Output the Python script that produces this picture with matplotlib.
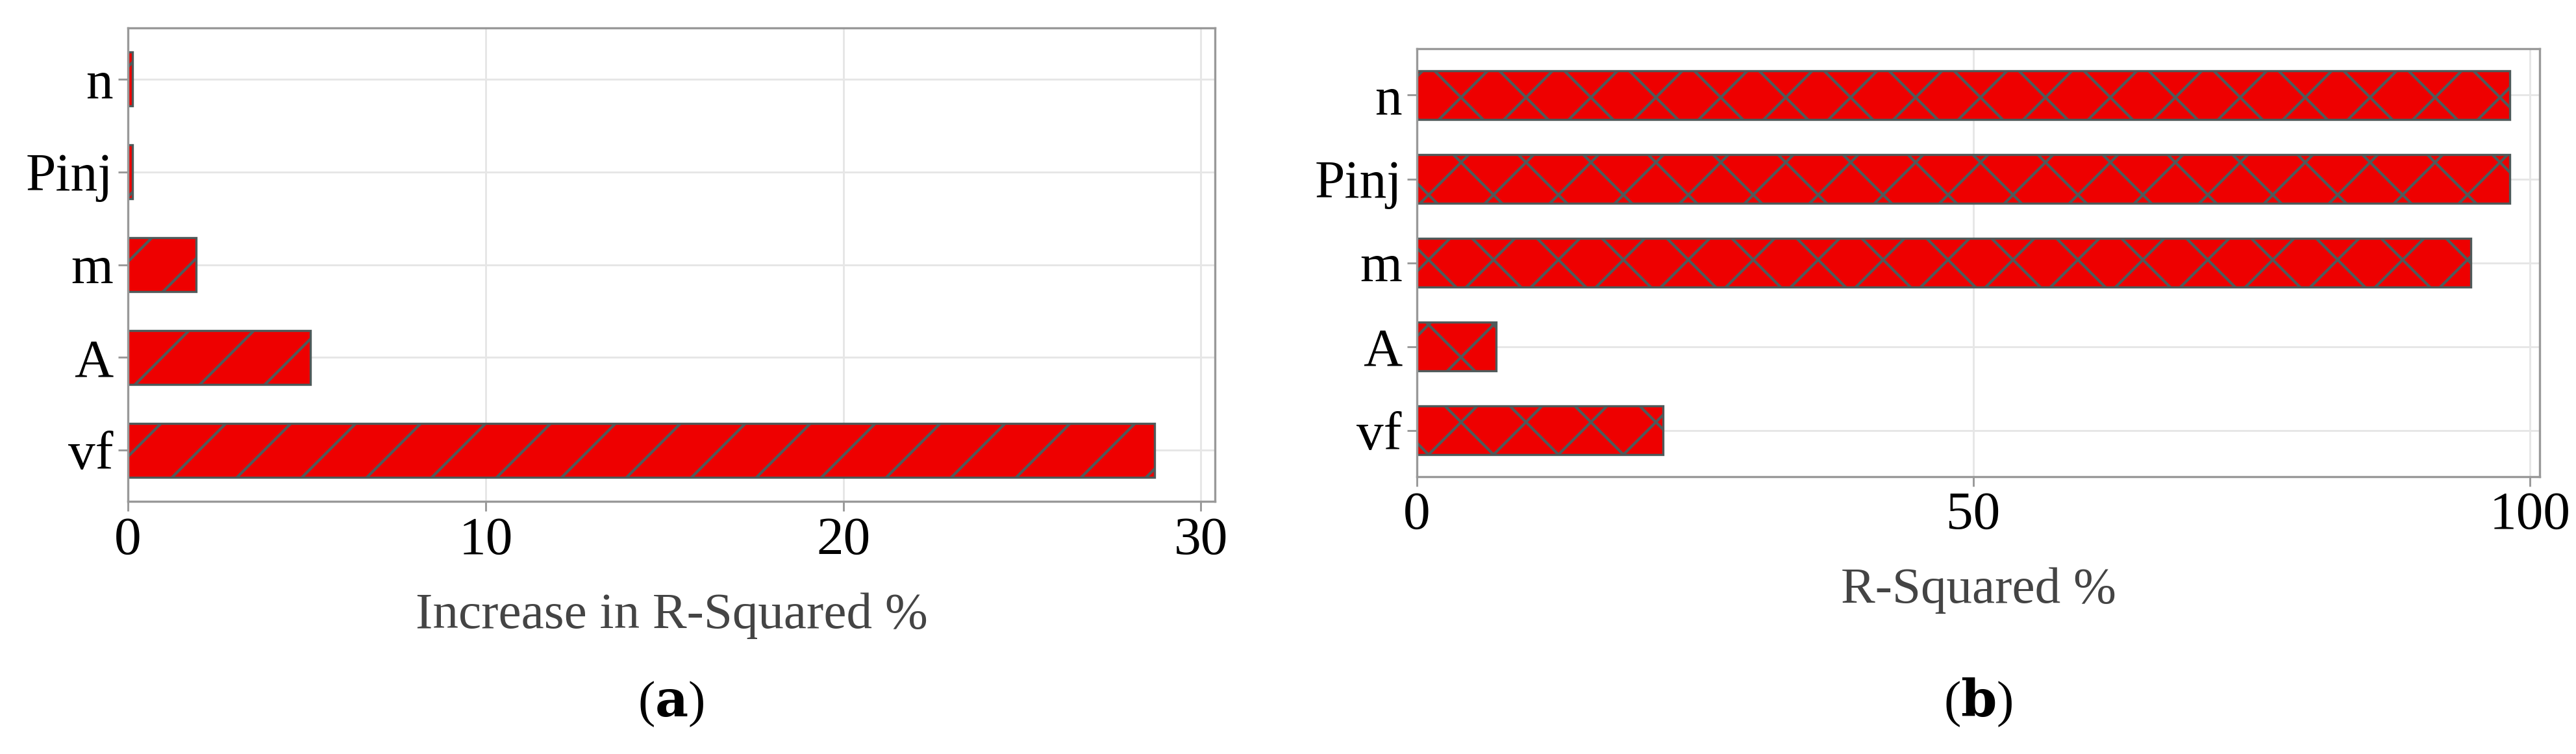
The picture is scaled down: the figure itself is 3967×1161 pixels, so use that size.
import matplotlib
matplotlib.use("Agg")
import matplotlib.pyplot as plt

plt.rcParams["font.family"] = ["Liberation Serif", "DejaVu Serif"]
plt.rcParams["mathtext.fontset"] = "dejavuserif"
plt.rcParams["hatch.color"] = "#4f5a5a"
plt.rcParams["hatch.linewidth"] = 1.0

# data (top to bottom as shown)
labels = ["vf", "A", "m", "Pinj", "n"]
increase = [28.7, 5.1, 1.9, 0.12, 0.12]
rsq = [22.1, 7.1, 94.7, 98.2, 98.2]

RED = "#ee0000"; EDGE = "#4f5a5a"; SPINE = "#999999"; GRID = "#e6e6e6"

fig = plt.figure(figsize=(3967 / 300, 1161 / 300), dpi=300)
fig.patch.set_facecolor("white")
ax1 = fig.add_axes([0.0497, 0.335, 0.422, 0.628])
ax2 = fig.add_axes([0.550, 0.368, 0.436, 0.567])


def style(ax, xlabel, xlim, ticks):
    ax.set_xlim(*xlim)
    ax.set_ylim(-0.55, 4.55)
    ax.set_xticks(ticks)
    ax.grid(True, color=GRID, lw=0.7)
    ax.set_axisbelow(True)
    for s in ax.spines.values():
        s.set_color(SPINE); s.set_linewidth(0.8)
    ax.tick_params(labelsize=20, color=SPINE, width=0.7, length=3.5, pad=2)
    ax.set_xlabel(xlabel, fontsize=19, color="#444444", labelpad=10)


ax1.barh(labels, increase, height=0.58, color=RED, edgecolor=EDGE,
         linewidth=0.8, hatch="/")
style(ax1, "Increase in R-Squared %", (0, 30.4), [0, 10, 20, 30])

ax2.barh(labels, rsq, height=0.58, color=RED, edgecolor=EDGE,
         linewidth=0.8, hatch="x")
style(ax2, "R-Squared %", (0, 100.9), [0, 50, 100])

fig.text(0.2605, 0.05, r"($\mathbf{a}$)", fontsize=19, ha="center")
fig.text(0.768, 0.05, r"($\mathbf{b}$)", fontsize=19, ha="center")

fig.savefig("out.png", dpi=300, facecolor="white")
